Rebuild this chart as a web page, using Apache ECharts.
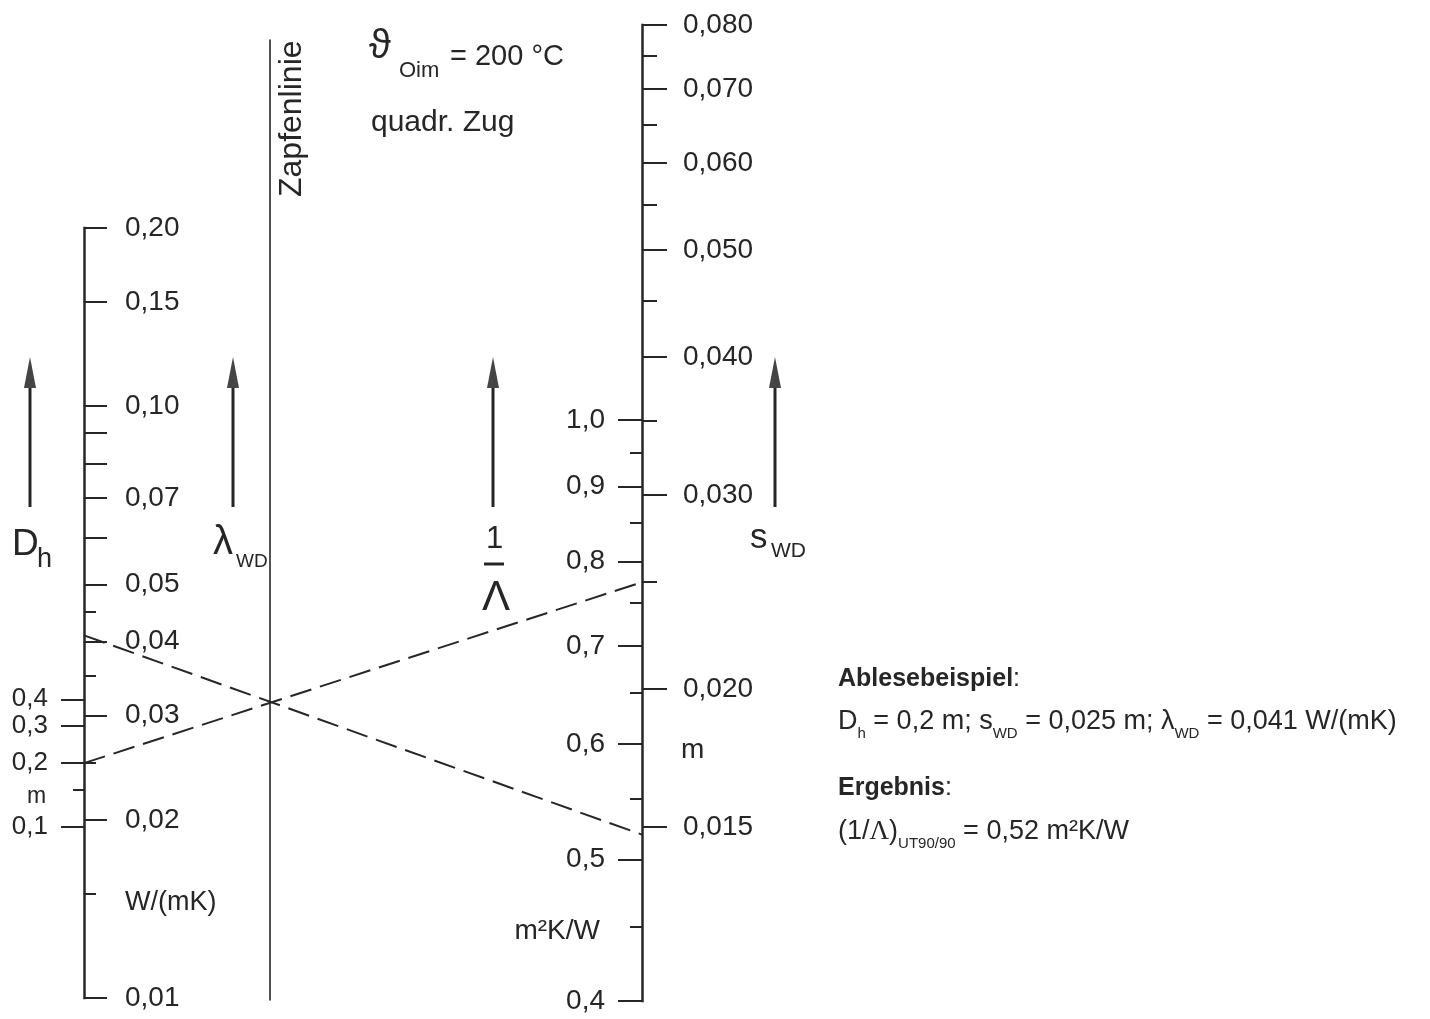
<!DOCTYPE html>
<html>
<head>
<meta charset="utf-8">
<title>Nomogramm Wärmedämmung</title>
<script src="https://cdn.jsdelivr.net/npm/echarts@6/dist/echarts.min.js"></script>
<style>
  html, body { margin: 0; padding: 0; background: #fff; }
  #chart { width: 1430px; height: 1019px; }
</style>
</head>
<body>
<div id="chart"></div>
<script>
// lambda_WD scale, W/(mK)
const lambdaRange = [0.01, 0.2]
const lambdaTicks = [0.01, 0.02, 0.03, 0.04, 0.05, 0.06, 0.07, 0.08, 0.09, 0.10, 0.15, 0.20]
const lambdaSmallTicks = [0.015, 0.025, 0.035, 0.045]
const lambdaLabels = [0.01, 0.02, 0.03, 0.04, 0.05, 0.07, 0.10, 0.15, 0.20]

// D_h scale, m (same line, left side)
const dhRange = [0.0156, 66.9]
const dhTicks = [0.1, 0.2, 0.3, 0.4]
const dhSmallTicks = [0.15]
const dhLabels = [0.1, 0.2, 0.3, 0.4]

// 1/Lambda scale, m2K/W
const invRange = [0.4, 1.864]
const invTicks = [0.4, 0.5, 0.6, 0.7, 0.8, 0.9, 1.0]
const invSmallTicks = [0.45, 0.55, 0.65, 0.75, 0.85, 0.95]
const invLabels = [0.4, 0.5, 0.6, 0.7, 0.8, 0.9, 1.0]

// s_WD scale, m (same line, right side)
const sRange = [0.01043, 0.08]
const sTicks = [0.015, 0.020, 0.030, 0.040, 0.050, 0.060, 0.070, 0.080]
const sSmallTicks = [0.025, 0.035, 0.045, 0.055, 0.065, 0.075]
const sLabels = [0.015, 0.020, 0.030, 0.040, 0.050, 0.060, 0.070, 0.080]

// Ablesebeispiel
const exampleDh = 0.2
const exampleS = 0.025
const exampleLambda = 0.041
const exampleInv = 0.52

const ink = '#262626'
const numFont = '"Liberation Sans Narrow", "Liberation Sans", Arial, sans-serif'
const textFont = '"Liberation Sans", Arial, sans-serif'

const chart = echarts.init(document.getElementById('chart'))

function fmt(digits) {
  return (v) => Number(v).toFixed(digits).replace('.', ',')
}

// one log scale drawn on a vertical line
function scaleAxis(grid, range, ticks, len, inside, labels, digits, margin, fontSize, showLine) {
  return {
    type: 'log',
    gridIndex: grid,
    position: 'left',
    min: range[0],
    max: range[1],
    axisLine: { show: showLine, onZero: false, lineStyle: { color: ink, width: 2.5, cap: 'square' } },
    axisTick: { show: true, inside: inside, length: len, customValues: ticks, lineStyle: { color: ink, width: 2 } },
    axisLabel: labels ? {
      show: true,
      inside: inside,
      customValues: labels,
      formatter: fmt(digits),
      margin: margin,
      color: ink,
      fontFamily: numFont,
      fontSize: fontSize,
      hideOverlap: false
    } : { show: false },
    splitLine: { show: false }
  }
}

const option = {
  animation: false,
  backgroundColor: '#fff',
  grid: [
    { left: 84, top: 228, height: 770, width: 40, outerBoundsMode: 'none' },
    { left: 270, top: 40, height: 960, width: 40, outerBoundsMode: 'none' },
    { left: 642, top: 25, height: 976, width: 40, outerBoundsMode: 'none' }
  ],
  xAxis: [0, 1, 2].map((i) => ({ type: 'value', gridIndex: i, min: 0, max: 1, show: false })),
  yAxis: [
    scaleAxis(0, lambdaRange, lambdaTicks, 23, true, lambdaLabels, 2, 41, 28, true),
    scaleAxis(0, lambdaRange, lambdaSmallTicks, 12, true, null, 0, 0, 0, false),
    scaleAxis(0, dhRange, dhTicks, 23, false, dhLabels, 1, 36, 26, false),
    scaleAxis(0, dhRange, dhSmallTicks, 11, false, null, 0, 0, 0, false),
    {
      type: 'value', gridIndex: 1, position: 'left', min: 0, max: 1,
      axisLine: { show: true, onZero: false, lineStyle: { color: ink, width: 1.6 } },
      axisTick: { show: false }, axisLabel: { show: false }, splitLine: { show: false }
    },
    scaleAxis(2, sRange, sTicks, 25, true, sLabels, 3, 41, 28, true),
    scaleAxis(2, sRange, sSmallTicks, 15, true, null, 0, 0, 0, false),
    scaleAxis(2, invRange, invTicks, 24, false, invLabels, 1, 37, 28, false),
    scaleAxis(2, invRange, invSmallTicks, 12, false, null, 0, 0, 0, false)
  ],
  series: []
}
chart.setOption(option)

function text(x, y, str, size, extra) {
  return Object.assign({
    type: 'text', x: x, y: y,
    style: { text: str, fill: ink, fontFamily: textFont, fontSize: size, verticalAlign: 'middle', align: 'left' }
  }, extra || {})
}

function arrow(x) {
  return {
    type: 'group',
    children: [
      { type: 'line', shape: { x1: x, y1: 507, x2: x, y2: 384 }, style: { stroke: ink, lineWidth: 3 } },
      { type: 'polygon', shape: { points: [[x, 357], [x - 6, 388], [x + 6, 388]] }, style: { fill: '#444' } }
    ]
  }
}

// example lines go through the axes' own scales
const xLeft = chart.convertToPixel({ xAxisIndex: 0 }, 0)
const xRight = chart.convertToPixel({ xAxisIndex: 2 }, 0)
const yLambda = chart.convertToPixel({ yAxisIndex: 0 }, exampleLambda)
const yInv = chart.convertToPixel({ yAxisIndex: 7 }, exampleInv)
const yDh = chart.convertToPixel({ yAxisIndex: 2 }, exampleDh)
const yS = chart.convertToPixel({ yAxisIndex: 5 }, exampleS)
const dash = { stroke: ink, lineWidth: 2, lineDash: [22, 9] }

const sub = { fontSize: 15, lineHeight: 17, verticalAlign: 'bottom', fontFamily: textFont, fill: ink }
const main = { fontSize: 27, lineHeight: 38, fontFamily: textFont, fill: ink }
const head = { fontSize: 25, lineHeight: 36, fontFamily: textFont, fill: ink }

const graphics = [
  { type: 'line', shape: { x1: xLeft, y1: yLambda, x2: xRight, y2: yInv }, style: dash },
  { type: 'line', shape: { x1: xLeft, y1: yDh, x2: xRight, y2: yS }, style: dash },

  arrow(30), arrow(233), arrow(493), arrow(775),

  // scale symbols
  text(12, 545, 'D', 37),
  text(37, 560, 'h', 27),
  text(213, 543, 'λ', 40),
  text(236, 562, 'WD', 19),
  text(486, 539, '1', 31),
  { type: 'line', shape: { x1: 484, y1: 564, x2: 504, y2: 564 }, style: { stroke: ink, lineWidth: 3 } },
  text(482, 598, 'Λ', 42),
  text(750, 538, 's', 35),
  text(771, 551, 'WD', 21),

  // units
  text(27, 797, 'm', 23),
  text(125, 903, 'W/(mK)', 27),
  text(600, 931, '', 28, { style: { text: 'm²K/W', fill: ink, fontFamily: textFont, fontSize: 28, verticalAlign: 'middle', align: 'right' } }),
  text(681, 750, 'm', 28),

  // head
  text(369, 47, 'ϑ', 40),
  text(399, 71, 'Oim', 22),
  text(450, 57, '= 200 °C', 29),
  text(371, 123, 'quadr. Zug', 30),
  text(292, 197, 'Zapfenlinie', 32, { rotation: Math.PI / 2 }),

  // reading example
  {
    type: 'text', x: 838, y: 679,
    style: {
      text: '{b|Ablesebeispiel}{t|:}',
      verticalAlign: 'middle',
      rich: { b: Object.assign({}, head, { fontWeight: 'bold' }), t: head }
    }
  },
  {
    type: 'text', x: 838, y: 722,
    style: {
      text: '{t|D}{s|h}{t| = 0,2 m; s}{s|WD}{t| = 0,025 m; λ}{s|WD}{t| = 0,041 W/(mK)}',
      verticalAlign: 'middle',
      rich: { t: main, s: sub }
    }
  },
  {
    type: 'text', x: 838, y: 788,
    style: {
      text: '{b|Ergebnis}{t|:}',
      verticalAlign: 'middle',
      rich: { b: Object.assign({}, head, { fontWeight: 'bold' }), t: head }
    }
  },
  {
    type: 'text', x: 838, y: 832,
    style: {
      text: '{t|(1/}{g|Λ}{t|)}{s|UT90/90}{t| = 0,52 m²K/W}',
      verticalAlign: 'middle',
      rich: { t: main, g: Object.assign({}, main, { fontFamily: '"Liberation Serif", serif' }), s: sub }
    }
  }
]

chart.setOption({ graphic: graphics })
</script>
</body>
</html>
